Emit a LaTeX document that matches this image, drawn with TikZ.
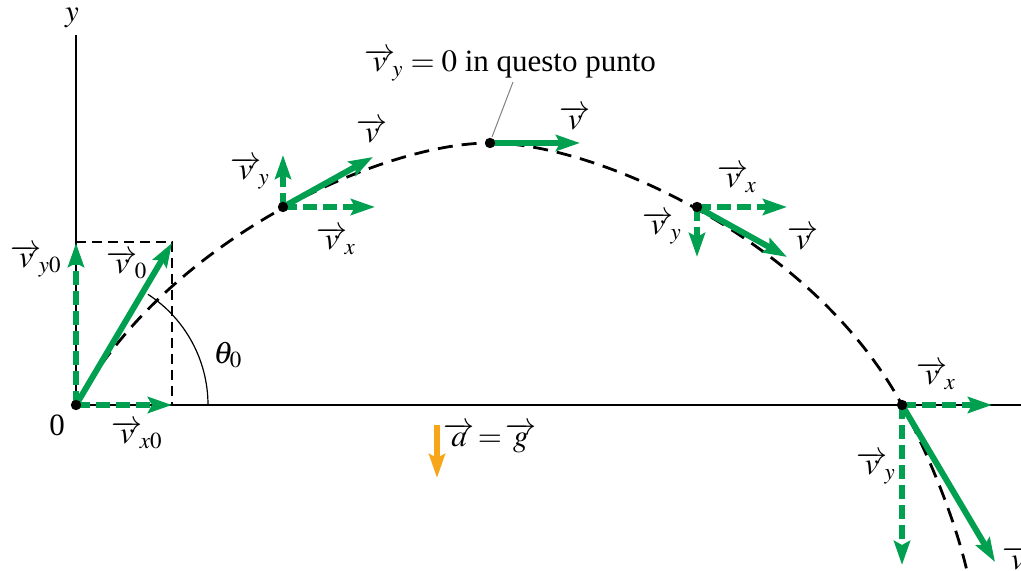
\documentclass[tikz,border=0pt]{standalone}
\usepackage{mathptmx}
\usepackage[no-math]{fontspec}
\setmainfont{Liberation Serif}
\usetikzlibrary{arrows.meta}
\definecolor{vgreen}{RGB}{0,160,80}
\definecolor{aorange}{RGB}{247,166,26}
\newcommand{\vv}{\overrightarrow{v}}

\begin{document}
\begin{tikzpicture}[x=.5pt,y=.5pt,line width=.6pt,font=\fontsize{15.5}{18}\selectfont,
  vel/.style={vgreen,line width=3pt,-{Stealth[length=12pt,width=8pt,inset=2pt]}},
  comp/.style={vel,dash pattern=on 7pt off 3pt},
  traj/.style={line width=1.4pt,dash pattern=on 7.5pt off 4.5pt},
  lbl/.style={inner sep=0pt}]
\useasboundingbox (0,0) rectangle (1021,571);
% punti della traiettoria
\coordinate (O) at (76,166);
\coordinate (P1) at (283,364);
\coordinate (A) at (490,428);
\coordinate (P3) at (697,364);
\coordinate (L) at (902,166);
% assi
\draw (76,536)--(O)--(1021,166);
\node[lbl] (ylab) at (72,553) {$y$};
\node[lbl] (zero) at (57,146) {0};
% scomposizione di v0
\draw[dash pattern=on 5pt off 3pt] (76,329)--(172,329)--(172,166);
\draw (O) ++(132,0) arc (0:57:132);
\node[lbl] (th) at (228,216) {$\theta_0$};
% traiettoria
\draw[traj] (O)..controls (165,330) and (380,428)..(A)..controls (598,428) and (813,330)..(L)
  ..controls (930,114) and (955,51)..(967,0);
% componenti
\draw[comp] (O)--(76,328);
\draw[comp] (O)--(172,166);
\draw[comp] (P1)--(283,416);
\draw[comp] (P1)--(375,364);
\draw[comp] (P3)--(787,364);
\draw[comp] (P3)--(697,314);
\draw[comp] (L)--(992,166);
\draw[comp] (L)--(902,6);
% velocita
\draw[vel] (O)--(172,328);
\draw[vel] (P1)--(373,414);
\draw[vel] (A)--(580,428);
\draw[vel] (P3)--(787,314);
\draw[vel] (L)--(995,9);
\foreach \p in {O,P1,A,P3,L} \fill (\p) circle[radius=2.6pt];
% etichette
\node[lbl] (vy0) at (36,310) {$\vv_{\!y0}$};
\node[lbl] (v0) at (127,306) {$\vv_{\!0}$};
\node[lbl] (vx0) at (137,136) {$\vv_{\!x0}$};
\node[lbl] (v1) at (372,440) {$\vv$};
\node[lbl] (vy1) at (250,398) {$\vv_{\!y}$};
\node[lbl] (vx1) at (336,330) {$\vv_{\!x}$};
\node[lbl] (v2) at (575,453) {$\vv$};
\node[lbl] (note) at (510,506) {$\vv_{\!y}=0$ in questo punto};
\draw[gray,line width=.5pt] (513,489)--(492,434);
\node[lbl] (vx3) at (737,392) {$\vv_{\!x}$};
\node[lbl] (vy3) at (662,343) {$\vv_{\!y}$};
\node[lbl] (v3) at (803,333) {$\vv$};
\node[lbl] (vx4) at (936,195) {$\vv_{\!x}$};
\node[lbl] (vy4) at (876,103) {$\vv_{\!y}$};
\node[lbl,anchor=west] (v4) at (1002,13) {$\vv$};
% accelerazione
\draw[aorange,line width=3pt,-{Stealth[length=12pt,width=8pt,inset=2pt]}] (437,146)--(437,93);
\node[lbl] (acc) at (490,133) {$\overrightarrow{a}\!=\!\overrightarrow{g}$};
\end{tikzpicture}
\end{document}
